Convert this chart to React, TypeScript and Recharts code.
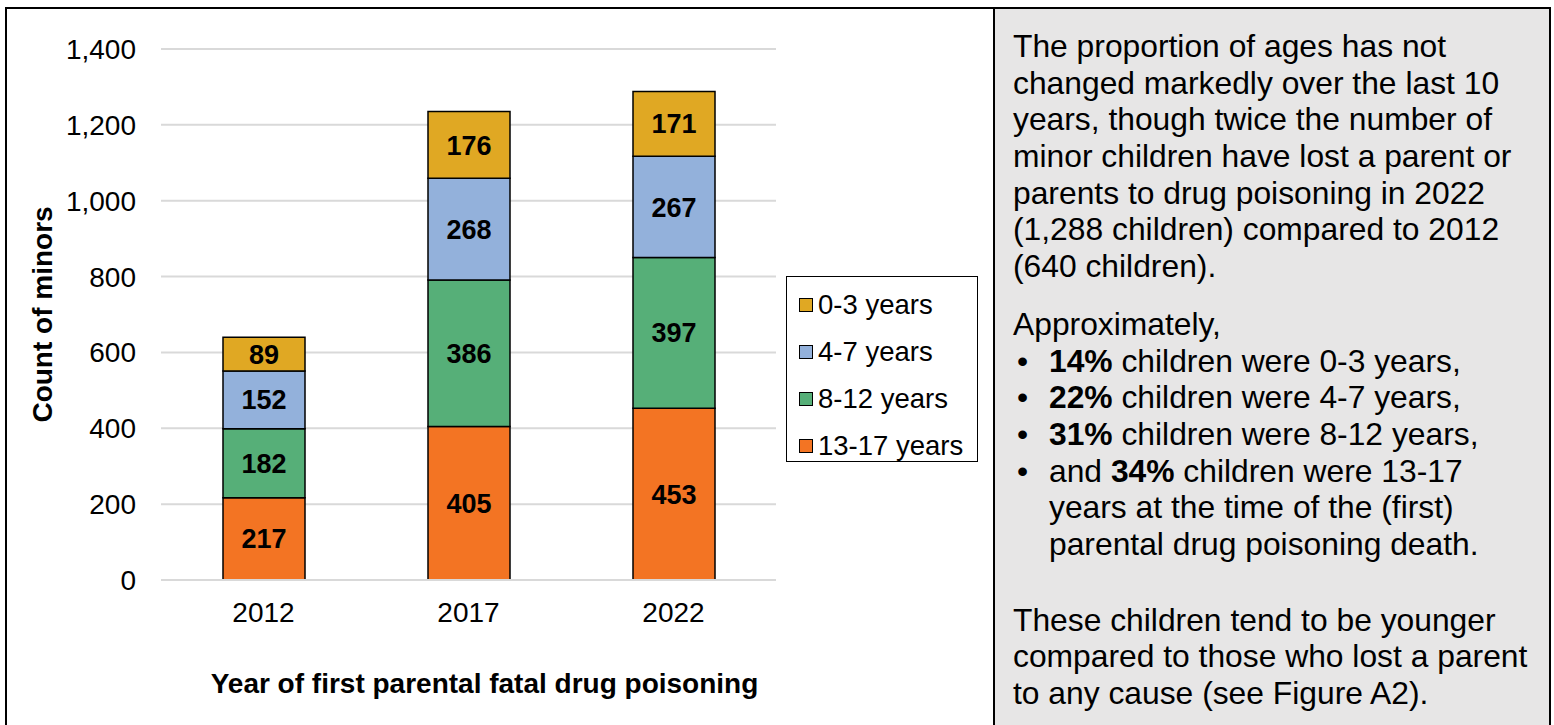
import { BarChart, Bar, XAxis, YAxis, CartesianGrid, Legend, LabelList, Label } from 'recharts';

const years = ['2012', '2017', '2022'];
const age13to17 = [217, 405, 453];
const age8to12 = [182, 386, 397];
const age4to7 = [152, 268, 267];
const age0to3 = [89, 176, 171];
const yTicks = [0, 200, 400, 600, 800, 1000, 1200, 1400];

const seriesInfo = [
  { key: 'a0', name: '0-3 years', color: '#E0A823' },
  { key: 'a4', name: '4-7 years', color: '#93B1DB' },
  { key: 'a8', name: '8-12 years', color: '#56AF78' },
  { key: 'a13', name: '13-17 years', color: '#F37423' },
];

const chartData = years.map((year, i) => ({
  year,
  a13: age13to17[i],
  a8: age8to12[i],
  a4: age4to7[i],
  a0: age0to3[i],
}));

const FONT = '"Liberation Sans", Arial, sans-serif';

const LegendBox = () => (
  <div
    style={{
      position: 'absolute',
      left: 786,
      top: 276,
      width: 192,
      height: 186,
      border: '1px solid #000',
      background: '#fff',
      fontFamily: FONT,
      fontSize: 27.5,
      boxSizing: 'border-box',
      paddingTop: 4,
    }}
  >
    {seriesInfo.map((s) => (
      <div key={s.key} style={{ display: 'flex', alignItems: 'center', height: 47, paddingLeft: 12 }}>
        <span
          style={{
            display: 'inline-block',
            width: 12,
            height: 12,
            background: s.color,
            border: '1.5px solid #000',
            marginRight: 5,
          }}
        />
        <span>{s.name}</span>
      </div>
    ))}
  </div>
);

const textLine = { height: 36.7, lineHeight: '36.7px', whiteSpace: 'nowrap' as const };

const Bullet = ({ children, first }: { children: any; first?: boolean }) => (
  <div style={{ ...textLine, position: 'relative', paddingLeft: 36 }}>
    {first && <span style={{ position: 'absolute', left: 4 }}>•</span>}
    {children}
  </div>
);

const SidePanel = () => (
  <div
    style={{
      position: 'absolute',
      left: 995,
      top: 9,
      width: 554,
      height: 720,
      background: '#E7E6E6',
      fontFamily: FONT,
      fontSize: 31.8,
      color: '#000',
      paddingLeft: 18,
      paddingTop: 19,
      boxSizing: 'border-box',
    }}
  >
    <div style={textLine}>The proportion of ages has not</div>
    <div style={textLine}>changed markedly over the last 10</div>
    <div style={textLine}>years, though twice the number of</div>
    <div style={textLine}>minor children have lost a parent or</div>
    <div style={textLine}>parents to drug poisoning in 2022</div>
    <div style={textLine}>(1,288 children) compared to 2012</div>
    <div style={textLine}>(640 children).</div>
    <div style={{ ...textLine, marginTop: 21 }}>Approximately,</div>
    <Bullet first><b>14%</b> children were 0-3 years,</Bullet>
    <Bullet first><b>22%</b> children were 4-7 years,</Bullet>
    <Bullet first><b>31%</b> children were 8-12 years,</Bullet>
    <Bullet first>and <b>34%</b> children were 13-17</Bullet>
    <Bullet>years at the time of the (first)</Bullet>
    <Bullet>parental drug poisoning death.</Bullet>
    <div style={{ ...textLine, marginTop: 39 }}>These children tend to be younger</div>
    <div style={textLine}>compared to those who lost a parent</div>
    <div style={textLine}>to any cause (see Figure A2).</div>
  </div>
);

const App = () => {
  return (
    <div style={{ position: 'absolute', left: 0, top: 0, width: 1554, height: 725, overflow: 'hidden', background: '#fff' }}>
      <div
        style={{
          position: 'absolute',
          left: 5,
          top: 7,
          width: 1546,
          height: 740,
          border: '2px solid #000',
          boxSizing: 'border-box',
        }}
      />
      <div style={{ position: 'absolute', left: 993, top: 7, width: 2, height: 725, background: '#000' }} />
      <SidePanel />
      <div style={{ position: 'absolute', left: 0, top: 0 }}>
        <BarChart
          width={990}
          height={725}
          data={chartData}
          margin={{ top: 49, right: 214, left: 0, bottom: 0 }}
          barSize={82}
        >
          <CartesianGrid vertical={false} stroke="#D9D9D9" strokeWidth={2} />
          <XAxis
            dataKey="year"
            height={145}
            axisLine={{ stroke: '#D9D9D9', strokeWidth: 2 }}
            tickLine={false}
            tickMargin={16}
            tick={{ fill: '#000', fontSize: 28, fontFamily: FONT }}
          >
            <Label
              value="Year of first parental fatal drug poisoning"
              position="insideBottom"
              offset={32}
              dx={16}
              style={{ fill: '#000', fontSize: 28, fontWeight: 'bold', fontFamily: FONT }}
            />
          </XAxis>
          <YAxis
            width={161}
            domain={[0, 1400]}
            ticks={yTicks}
            interval={0}
            axisLine={false}
            tickLine={false}
            tickMargin={19}
            tickFormatter={(v) => Number(v).toLocaleString('en-US')}
            tick={{ fill: '#000', fontSize: 28, fontFamily: FONT }}
          >
            <Label
              value="Count of minors"
              angle={-90}
              position="insideLeft"
              offset={42}
              style={{ fill: '#000', fontSize: 28, fontWeight: 'bold', fontFamily: FONT, textAnchor: 'middle' }}
            />
          </YAxis>
          <Legend content={() => null} />
          {[...seriesInfo].reverse().map((s) => (
            <Bar
              key={s.key}
              dataKey={s.key}
              name={s.name}
              stackId="ages"
              fill={s.color}
              stroke="#000"
              strokeWidth={1.5}
              isAnimationActive={false}
            >
              <LabelList
                dataKey={s.key}
                position="center"
                style={{ fill: '#000', fontSize: 27, fontWeight: 'bold', fontFamily: FONT }}
              />
            </Bar>
          ))}
        </BarChart>
      </div>
      <LegendBox />
    </div>
  );
};

export default App;
